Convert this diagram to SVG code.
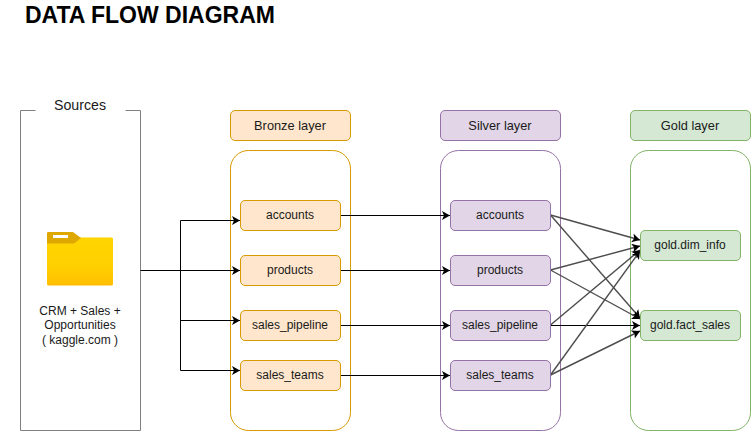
<svg xmlns="http://www.w3.org/2000/svg" width="751" height="431" viewBox="0 0 751 431">
<defs>
<marker id="ah" markerUnits="userSpaceOnUse" markerWidth="10" markerHeight="10" refX="8" refY="4.500" orient="auto"><path d="M0 0L8 4.500L0 9L2 4.500Z" fill="#000"/></marker>
<linearGradient id="fg" x1="0" y1="0" x2="0" y2="1"><stop offset="0" stop-color="#ffd500"/><stop offset="0.6" stop-color="#ffd000"/><stop offset="1" stop-color="#ffbe00"/></linearGradient>
</defs>
<style>
text{font-family:"Liberation Sans",Arial,sans-serif;font-size:12px;fill:#1a1a1a;text-anchor:middle}
.h{font-size:12.800px}
.b{fill:#ffe6cc;stroke:#d79b00}
.s{fill:#e1d5e7;stroke:#9673a6}
.g{fill:#d5e8d4;stroke:#82b366}
.cb{fill:#fff;stroke:#d79b00}
.cs{fill:#fff;stroke:#9673a6}
.cg{fill:#fff;stroke:#82b366}
.k{fill:none;stroke:#000;stroke-width:1}
.y{fill:none;stroke:#4d4d4d;stroke-width:1.400}
</style>
<text id="title" x="25" y="23" style="font-size:23px;font-weight:bold;text-anchor:start;fill:#000">DATA FLOW DIAGRAM</text>
<g id="sources">
<path d="M35.500 110.500H20.500V430.500H140.500V110.500H125.500" fill="none" stroke="#808080"/>
<text x="80" y="110" style="font-size:14.200px">Sources</text>
<path d="M47 243Q47 238 51 238H74L80 237.500H111.500Q113 237.500 113 239V284Q113 285.500 111.500 285.500H48.500Q47 285.500 47 284Z" fill="url(#fg)"/>
<path d="M47 237V233Q47 232 48.500 232H73L81 238L74 243.500H47Z" fill="#dfa800"/>
<rect x="53" y="235" width="15" height="3" fill="#fff"/>
<text x="80" y="315">CRM + Sales +</text>
<text x="80" y="329">Opportunities</text>
<text x="80" y="344">( kaggle.com )</text>
</g>
<g id="bronze-layer"><rect class="b" x="230.500" y="110.500" width="120" height="30" rx="4.500"/><text class="h" x="290" y="130">Bronze layer</text></g>
<g id="silver-layer"><rect class="s" x="440.500" y="110.500" width="120" height="30" rx="4.500"/><text class="h" x="500" y="130">Silver layer</text></g>
<g id="gold-layer"><rect class="g" x="630.500" y="110.500" width="120" height="30" rx="4.500"/><text class="h" x="690" y="130">Gold layer</text></g>
<g id="bronze-container"><rect class="cb" x="230.500" y="150.500" width="120" height="280" rx="18"/></g>
<g id="silver-container"><rect class="cs" x="440.500" y="150.500" width="120" height="280" rx="18"/></g>
<g id="gold-container"><rect class="cg" x="630.500" y="150.500" width="120" height="280" rx="18"/></g>
<g id="connectors">
<path class="k" d="M140.500 270.500H240" marker-end="url(#ah)"/>
<path class="k" d="M180.500 270.500V220.500H240" marker-end="url(#ah)"/>
<path class="k" d="M180.500 270.500V320.500H240" marker-end="url(#ah)"/>
<path class="k" d="M180.500 270.500V370.500H240" marker-end="url(#ah)"/>
<path class="k" d="M340 215.500H450" marker-end="url(#ah)"/>
<path class="k" d="M340 270.500H450" marker-end="url(#ah)"/>
<path class="k" d="M340 325.500H450" marker-end="url(#ah)"/>
<path class="k" d="M340 375.500H450" marker-end="url(#ah)"/>
<path class="y" d="M550.500 215L640 240" marker-end="url(#ah)"/>
<path class="y" d="M550.500 215L640 318" marker-end="url(#ah)"/>
<path class="y" d="M550.500 270L640 246" marker-end="url(#ah)"/>
<path class="y" d="M550.500 270L640 319" marker-end="url(#ah)"/>
<path class="y" d="M550.500 325L640 250" marker-end="url(#ah)"/>
<path class="k" d="M550.500 325.500H640" marker-end="url(#ah)"/>
<path class="y" d="M550.500 375L640 251" marker-end="url(#ah)"/>
<path class="y" d="M550.500 375L640 331" marker-end="url(#ah)"/>
</g>
<g id="b-accounts"><rect class="b" x="240.500" y="200.500" width="100" height="30" rx="4.500"/><text x="290" y="219">accounts</text></g>
<g id="b-products"><rect class="b" x="240.500" y="255.500" width="100" height="30" rx="4.500"/><text x="290" y="274">products</text></g>
<g id="b-sales-pipeline"><rect class="b" x="240.500" y="310.500" width="100" height="30" rx="4.500"/><text x="290" y="329">sales_pipeline</text></g>
<g id="b-sales-teams"><rect class="b" x="240.500" y="360.500" width="100" height="30" rx="4.500"/><text x="290" y="379">sales_teams</text></g>
<g id="s-accounts"><rect class="s" x="450.500" y="200.500" width="100" height="30" rx="4.500"/><text x="500" y="219">accounts</text></g>
<g id="s-products"><rect class="s" x="450.500" y="255.500" width="100" height="30" rx="4.500"/><text x="500" y="274">products</text></g>
<g id="s-sales-pipeline"><rect class="s" x="450.500" y="310.500" width="100" height="30" rx="4.500"/><text x="500" y="329">sales_pipeline</text></g>
<g id="s-sales-teams"><rect class="s" x="450.500" y="360.500" width="100" height="30" rx="4.500"/><text x="500" y="379">sales_teams</text></g>
<g id="g-dim-info"><rect class="g" x="640.500" y="230.500" width="100" height="30" rx="4.500"/><text x="690" y="249">gold.dim_info</text></g>
<g id="g-fact-sales"><rect class="g" x="640.500" y="310.500" width="100" height="30" rx="4.500"/><text x="690" y="329">gold.fact_sales</text></g>
</svg>
